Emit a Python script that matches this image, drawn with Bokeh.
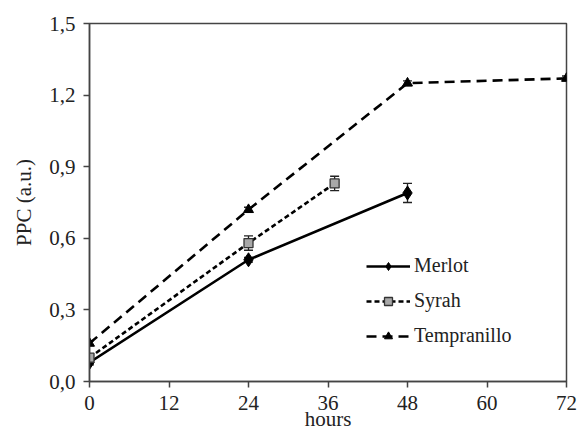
from bokeh.plotting import figure
from bokeh.models import FixedTicker, Legend, LegendItem, ColumnDataSource, Whisker, TeeHead
from bokeh.embed import file_html
from bokeh.resources import INLINE

# Data
merlot_x = [0, 24, 48]
merlot_y = [0.08, 0.51, 0.79]
merlot_err = [0.01, 0.01, 0.04]

syrah_x = [0, 24, 37]
syrah_y = [0.10, 0.58, 0.83]
syrah_err = [0.01, 0.03, 0.03]

temp_x = [0, 24, 48, 72]
temp_y = [0.16, 0.72, 1.25, 1.27]
temp_err = [0.01, 0.01, 0.01, 0.01]

x_ticks = [0, 12, 24, 36, 48, 60, 72]
y_ticks = [0.0, 0.3, 0.6, 0.9, 1.2, 1.5]
y_tick_labels = ["0,0", "0,3", "0,6", "0,9", "1,2", "1,5"]

FONT = "Liberation Serif"
AX = "#444444"

p = figure(width=579, height=435, output_backend="svg", toolbar_location=None,
           x_range=(0, 72), y_range=(0, 1.5),
           min_border_left=89, min_border_right=13, min_border_top=23, min_border_bottom=54)
p.xgrid.visible = False
p.ygrid.visible = False
p.outline_line_color = AX
p.outline_line_width = 1.5

for ax in (p.xaxis[0], p.yaxis[0]):
    ax.axis_line_color = AX
    ax.axis_line_width = 1.5
    ax.major_tick_line_color = AX
    ax.major_tick_line_width = 1.5
    ax.major_tick_in = 0
    ax.major_tick_out = 6
    ax.minor_tick_line_color = None
    ax.major_label_text_font = FONT
    ax.major_label_text_font_size = "21px"
    ax.major_label_text_color = "#222222"
    ax.axis_label_text_font = FONT
    ax.axis_label_text_font_size = "21px"
    ax.axis_label_text_font_style = "normal"
    ax.axis_label_text_color = "#222222"

p.xaxis.ticker = FixedTicker(ticks=x_ticks)
p.yaxis.ticker = FixedTicker(ticks=y_ticks)
p.yaxis.major_label_overrides = {t: l for t, l in zip(y_ticks, y_tick_labels)}
p.xaxis.axis_label = "hours"
p.yaxis.axis_label = "PPC (a.u.)"
p.xaxis.major_label_standoff = 8
p.yaxis.major_label_standoff = 8
p.xaxis.axis_label_standoff = -6
p.yaxis.axis_label_standoff = 10

def add_err(xs, ys, errs):
    src = ColumnDataSource(dict(x=xs, lo=[y - e for y, e in zip(ys, errs)],
                                hi=[y + e for y, e in zip(ys, errs)]))
    w = Whisker(source=src, base="x", lower="lo", upper="hi",
                line_color="#222222", line_width=1.3,
                upper_head=TeeHead(size=9, line_color="#222222", line_width=1.3),
                lower_head=TeeHead(size=9, line_color="#222222", line_width=1.3))
    p.add_layout(w)

add_err(merlot_x, merlot_y, merlot_err)
add_err(syrah_x, syrah_y, syrah_err)
add_err(temp_x, temp_y, temp_err)

l1 = p.line(merlot_x, merlot_y, line_color="black", line_width=2.6)
s1 = p.scatter(merlot_x, merlot_y, marker="diamond", size=14, fill_color="black", line_color="black")

l2 = p.line(syrah_x, syrah_y, line_color="black", line_width=2.6, line_dash="5 3")
s2 = p.scatter(syrah_x, syrah_y, marker="square", size=9, fill_color="#a8a8a8", line_color="#333333", line_width=1.3)

l3 = p.line(temp_x, temp_y, line_color="black", line_width=2.6, line_dash="10 6")
s3 = p.scatter(temp_x, temp_y, marker="triangle", size=10, fill_color="black", line_color="black")

legend = Legend(items=[LegendItem(label="Merlot", renderers=[l1, s1]),
                       LegendItem(label="Syrah", renderers=[l2, s2]),
                       LegendItem(label="Tempranillo", renderers=[l3, s3])],
                location=(277, 34), orientation="vertical",
                glyph_width=44, glyph_height=20, spacing=12, padding=0, margin=0,
                label_standoff=4, label_text_font=FONT, label_text_font_size="20px",
                label_text_color="#222222",
                border_line_color=None, background_fill_alpha=0)
p.add_layout(legend, "center")

open("out.html", "w").write(file_html(p, INLINE))
